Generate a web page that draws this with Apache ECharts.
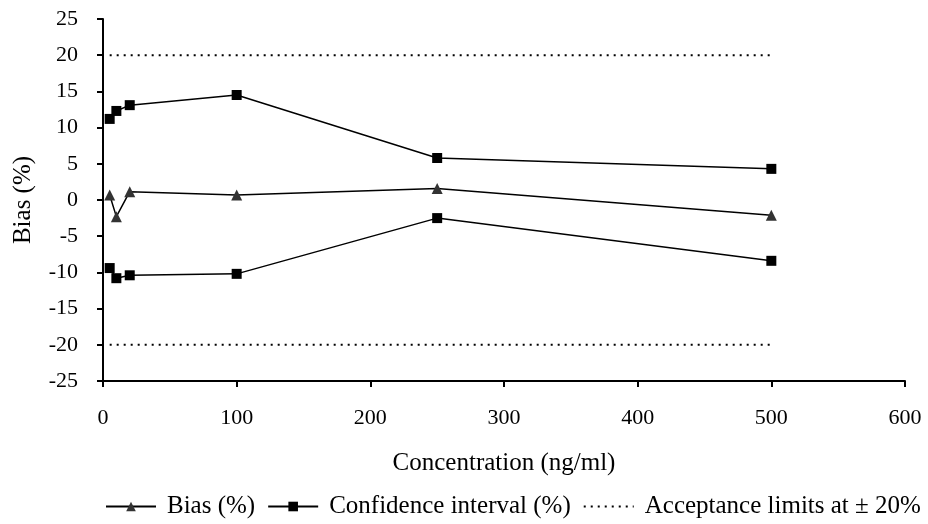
<!DOCTYPE html>
<html><head><meta charset="utf-8">
<script src="https://cdn.jsdelivr.net/npm/echarts@6/dist/echarts.min.js"></script>
<style>html,body{margin:0;padding:0;background:#fff}#c{width:928px;height:524px}</style>
</head><body><div id="c"></div>
<script>
const concentrations = [5, 10, 20, 100, 250, 500];
const bias = [0.7, -2.3, 1.15, 0.7, 1.6, -2.1];
const ciUpper = [11.2, 12.3, 13.1, 14.5, 5.8, 4.3];
const ciLower = [-9.4, -10.8, -10.4, -10.2, -2.5, -8.4];
const limitX = [5, 500];
const limitUpper = [20, 20];
const limitLower = [-20, -20];

const pair = (xs, ys) => xs.map((x, i) => [x, ys[i]]);
const font = 'Liberation Serif';
const chart = echarts.init(document.getElementById('c'));
const lineBase = {type: 'line', showSymbol: true, symbolSize: 10, animation: false};
chart.setOption({
  backgroundColor: '#fff',
  textStyle: {fontFamily: font},
  grid: {left: 103, right: 23, top: 19, bottom: 143},
  legend: {
    top: 489, left: 100, itemWidth: 50, itemHeight: 12, itemGap: 12,
    textStyle: {fontFamily: font, fontSize: 25, color: '#000', padding: [0, 0, 0, 6]},
    data: [
      {name: 'Bias (%)'},
      {name: 'Confidence interval (%)'},
      {name: 'Acceptance limits at ± 20%', itemStyle: {opacity: 0}}
    ]
  },
  xAxis: {
    type: 'value', min: 0, max: 600, interval: 100,
    name: 'Concentration (ng/ml)', nameLocation: 'middle', nameGap: 70,
    nameTextStyle: {fontFamily: font, fontSize: 25, color: '#000'},
    axisLine: {onZero: false, lineStyle: {color: '#000', width: 2}},
    axisTick: {show: true, length: 6, lineStyle: {color: '#000', width: 2}},
    axisLabel: {fontFamily: font, fontSize: 22, color: '#000', margin: 26},
    splitLine: {show: false}
  },
  yAxis: {
    type: 'value', min: -25, max: 25, interval: 5,
    name: 'Bias (%)', nameLocation: 'middle', nameGap: 67, nameRotate: 90,
    nameTextStyle: {fontFamily: font, fontSize: 25, color: '#000'},
    axisLine: {show: true, onZero: false, lineStyle: {color: '#000', width: 2}},
    axisTick: {show: true, length: 6, lineStyle: {color: '#000', width: 2}},
    axisLabel: {fontFamily: font, fontSize: 22, color: '#000', margin: 25},
    splitLine: {show: false}
  },
  series: [
    Object.assign({}, lineBase, {name: 'Bias (%)', data: pair(concentrations, bias),
      symbol: 'triangle', symbolSize: 11,
      itemStyle: {color: '#333'}, lineStyle: {color: '#000', width: 1.5}}),
    Object.assign({}, lineBase, {name: 'Confidence interval (%)', data: pair(concentrations, ciUpper),
      symbol: 'rect', itemStyle: {color: '#000'}, lineStyle: {color: '#000', width: 1.5}}),
    Object.assign({}, lineBase, {name: 'Confidence interval (%)', data: pair(concentrations, ciLower),
      symbol: 'rect', itemStyle: {color: '#000'}, lineStyle: {color: '#000', width: 1.5}}),
    Object.assign({}, lineBase, {name: 'Acceptance limits at ± 20%', data: pair(limitX, limitUpper),
      showSymbol: false, symbol: 'none', itemStyle: {color: '#000'},
      lineStyle: {color: '#000', width: 2, type: [2, 5]}}),
    Object.assign({}, lineBase, {name: 'Acceptance limits at ± 20%', data: pair(limitX, limitLower),
      showSymbol: false, symbol: 'none', itemStyle: {color: '#000'},
      lineStyle: {color: '#000', width: 2, type: [2, 5]}})
  ]
});
</script></body></html>
